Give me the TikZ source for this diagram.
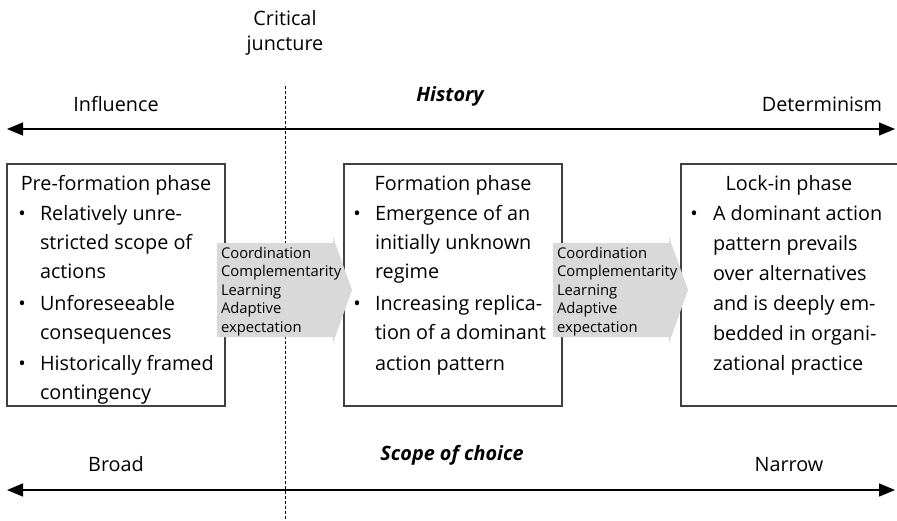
\documentclass[tikz,border=0pt]{standalone}
\usepackage{fontspec}
\setmainfont{Open Sans}
\usetikzlibrary{arrows.meta}
\definecolor{chevgray}{RGB}{217,217,217}
\definecolor{edgegray}{RGB}{64,64,64}
\begin{document}
\begin{tikzpicture}[x=1pt,y=-1pt,
  every node/.style={inner sep=0pt, outer sep=0pt},
  bigtxt/.style={font=\fontsize{19.8}{23}\selectfont},
  headtxt/.style={font=\fontsize{19.8}{23}\selectfont\bfseries\itshape},
  smalltxt/.style={font=\fontsize{14.8}{18.5}\selectfont},
  axisline/.style={line width=1.3pt, draw=black,
    {Triangle[length=16pt,width=13pt]}-{Triangle[length=16pt,width=13pt]}},
  phasebox/.style={draw=edgegray, line width=1.3pt, fill=white,
    minimum width=218pt, minimum height=242pt, anchor=north west},
  juncture/.style={draw=black, line width=1pt, dash pattern=on 3pt off 2pt},
  chevron/.style={fill=chevgray},
]
\useasboundingbox (0,0) rectangle (897,520);

% phase boxes
\node[phasebox] (pre)  at (7,164)   {};
\node[phasebox] (form) at (344,164) {};
\node[phasebox] (lock) at (681,164) {};

% critical juncture
\coordinate (jtop) at (285,86);
\coordinate (jbot) at (285,520);
\draw[juncture] (jtop) -- (jbot);
\node[bigtxt, anchor=base] (crit1) at (285,25) {Critical};
\node[bigtxt, anchor=base] (crit2) at (285,50) {juncture};

% history axis
\coordinate (hisL) at (7,129);
\coordinate (hisR) at (895,129);
\draw[axisline] (hisL) -- (hisR);
\node[bigtxt, anchor=base] (infl) at (116,111) {Influence};
\node[headtxt, anchor=base] (hist) at (450,101) {History};
\node[bigtxt, anchor=base] (det) at (822,111) {Determinism};

% scope-of-choice axis
\coordinate (scoL) at (7,490);
\coordinate (scoR) at (895,490);
\draw[axisline] (scoL) -- (scoR);
\node[bigtxt, anchor=base] (broad) at (116,471) {Broad};
\node[headtxt, anchor=base] (scope) at (452,460) {Scope of choice};
\node[bigtxt, anchor=base] (narrow) at (789,471) {Narrow};

% box titles
\node[bigtxt, anchor=base] (pretitle)  at (116,190) {Pre-formation phase};
\node[bigtxt, anchor=base] (formtitle) at (453,190) {Formation phase};
\node[bigtxt, anchor=base] (locktitle) at (789,190) {Lock-in phase};

% box contents
\foreach \yy/\linetext [count=\i] in {220/Relatively unre-, 249/stricted scope of,
    278/actions, 310/Unforeseeable, 339/consequences, 370/Historically framed,
    399/contingency}
  \node[bigtxt, anchor=base west] (pre-\i) at (40,\yy) {\linetext};
\foreach \yy [count=\i] in {220,310,370}
  \node[bigtxt, anchor=base] (prebul-\i) at (22,\yy) {\textbullet};

\foreach \yy/\linetext [count=\i] in {220/Emergence of an, 249/initially unknown,
    278/regime, 310/Increasing replica-, 339/tion of a dominant, 370/action pattern}
  \node[bigtxt, anchor=base west] (form-\i) at (375,\yy) {\linetext};
\foreach \yy [count=\i] in {220,310}
  \node[bigtxt, anchor=base] (formbul-\i) at (357,\yy) {\textbullet};

\foreach \yy/\linetext [count=\i] in {220/A dominant action, 250/pattern prevails,
    280/over alternatives, 310/and is deeply em-, 340/bedded in organi-,
    370/zational practice}
  \node[bigtxt, anchor=base west] (lock-\i) at (713,\yy) {\linetext};
\node[bigtxt, anchor=base] (lockbul-1) at (694,220) {\textbullet};

% mechanism chevrons between the phases
\foreach \dx/\nm in {0/a, 336/b} {
  \begin{scope}[xshift=\dx]
    \fill[chevron] (217,243) -- (333,243) -- (333,237) -- (352,290)
      -- (333,343) -- (333,337) -- (217,337) -- cycle;
    \foreach \yy/\linetext [count=\i] in {258/Coordination, 276.5/Complementarity,
        295/Learning, 313.5/Adaptive, 332/expectation}
      \node[smalltxt, anchor=base west] (mech\nm-\i) at (221,\yy) {\linetext};
  \end{scope}
}
\end{tikzpicture}
\end{document}
